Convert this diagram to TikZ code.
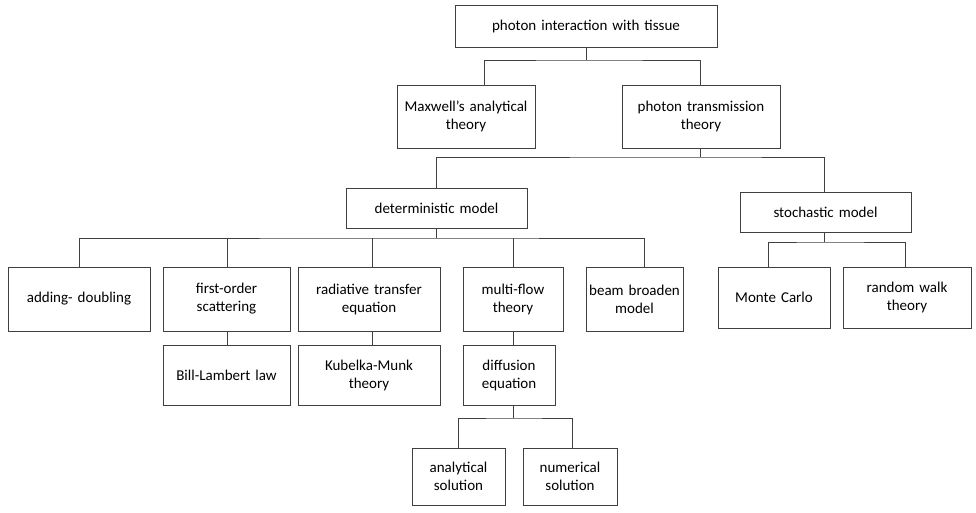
\documentclass[tikz,border=0pt]{standalone}
\usepackage{fontspec}
\setmainfont{Carlito}
\begin{document}
\begin{tikzpicture}[x=1pt,y=-1pt,
  box/.style={draw=black!75,line width=0.9pt,align=center,font=\fontsize{15}{18}\selectfont,inner sep=1pt},
  ln/.style={draw=black!75,line width=0.9pt}]
\useasboundingbox (0,0) rectangle (976,512);
\newcommand{\bx}[6]{\node[box,minimum width=#4-#2,minimum height=#5-#3,text width=#4-#2-6] (#1) at ({(#2+#4)/2},{(#3+#5)/2}) {#6};}
\bx{top}{455}{5}{717}{47}{photon interaction with tissue}
\bx{max}{397}{85}{535}{148}{Maxwell's analytical\\theory}
\bx{ptt}{622}{85}{780}{148}{photon transmission\\theory}
\bx{det}{346}{188}{527}{228}{deterministic model}
\bx{sto}{740}{192}{911}{232}{stochastic model}
\bx{add}{8}{267}{150}{331}{adding- doubling}
\bx{fos}{163}{267}{290}{331}{first-order\\scattering}
\bx{rte}{298}{267}{440}{331}{radiative transfer\\equation}
\bx{mft}{463}{267}{563}{331}{multi-flow\\theory}
\bx{bbm}{586}{267}{683}{331}{beam broaden\\model}
\bx{mc}{718}{267}{830}{328}{Monte Carlo}
\bx{rw}{843}{267}{971}{328}{random walk\\theory}
\bx{bl}{163}{345}{290}{405}{Bill-Lambert law}
\bx{km}{298}{345}{440}{405}{Kubelka-Munk\\theory}
\bx{de}{463}{345}{555}{405}{diffusion\\equation}
\bx{as}{412}{448}{505}{505}{analytical\\solution}
\bx{ns}{523}{448}{617}{505}{numerical\\solution}
\coordinate (b1) at (586,60);
\draw[ln] (top.south) -- (b1);
\draw[ln] (max.north -| 484,0) |- (b1) -| (ptt.north -| 700,0);
\coordinate (b2) at (700,157);
\draw[ln] (ptt.south -| 700,0) -- (b2);
\draw[ln] (det.north -| 436,0) |- (b2) -| (sto.north -| 824,0);
\coordinate (b3) at (436,238);
\draw[ln] (det.south -| 436,0) -- (b3);
\draw[ln] (add.north -| 79,0) |- (b3) -| (bbm.north -| 644,0);
\draw[ln] (fos.north -| 227,0) -- (227,238);
\draw[ln] (rte.north -| 372,0) -- (372,238);
\draw[ln] (mft.north -| 513,0) -- (513,238);
\coordinate (b4) at (824,242);
\draw[ln] (sto.south -| 824,0) -- (b4);
\draw[ln] (mc.north -| 768,0) |- (b4) -| (rw.north -| 905,0);
\draw[ln] (fos.south -| 227,0) -- (bl.north -| 227,0);
\draw[ln] (rte.south -| 372,0) -- (km.north -| 372,0);
\draw[ln] (mft.south -| 513,0) -- (de.north -| 513,0);
\coordinate (b5) at (513,418);
\draw[ln] (de.south -| 513,0) -- (b5);
\draw[ln] (as.north -| 458,0) |- (b5) -| (ns.north -| 572,0);
\end{tikzpicture}
\end{document}
